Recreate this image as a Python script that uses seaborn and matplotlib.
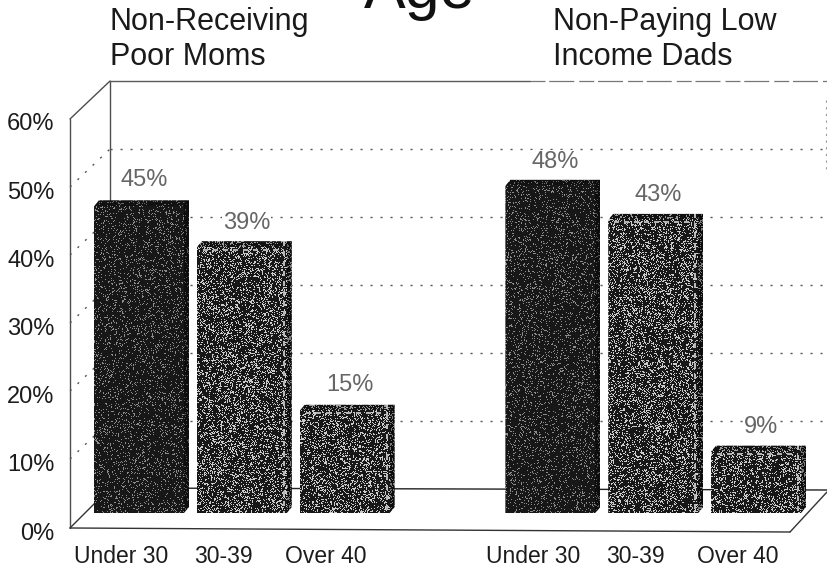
import numpy as np
import pandas as pd
import matplotlib
matplotlib.use("Agg")
import matplotlib.pyplot as plt
from matplotlib.patches import Polygon
from matplotlib.transforms import ScaledTranslation
import seaborn as sns

group_moms = "Non-Receiving\nPoor Moms"
group_dads = "Non-Paying Low\nIncome Dads"
main_title = "Age"
categories = ["Under 30", "30-39", "Over 40"]
moms = [45, 39, 15]
dads = [48, 43, 9]
yticks = [0, 10, 20, 30, 40, 50, 60]

sns.set_theme(style="white")
plt.rcParams['font.family'] = ['Liberation Sans', 'DejaVu Sans']

W, H = 827, 569
fig = plt.figure(figsize=(W / 100, H / 100), dpi=100)
fig.patch.set_facecolor("white")
AX_L, AX_R, AX_B, AX_T = 70, 827, 528, 119
ax = fig.add_axes([AX_L / W, 1 - AX_B / H, (AX_R - AX_L) / W, (AX_B - AX_T) / H])
ax.patch.set_alpha(0)


def px(x, y):
    return x / W, 1 - y / H


def frame(xs, ys, **kw):
    fx = [x / W for x in xs]
    fy = [1 - y / H for y in ys]
    ax.plot(fx, fy, transform=fig.transFigure, clip_on=False, **kw)


slots = ["m0", "m1", "m2", "gap", "d0", "d1", "d2"]
values = moms + [np.nan] + dads
df = pd.DataFrame({"slot": slots, "value": values})
BASE = 2.2
sns.barplot(data=df, x="slot", y="value", hue="slot", order=slots, hue_order=slots,
            palette=["#262626", "#4a4a4a", "#4a4a4a", "#ffffff", "#262626", "#4a4a4a", "#4a4a4a"],
            dodge=False, width=0.875, bottom=BASE, legend=False, ax=ax, zorder=3, errorbar=None)
XLIM = (-0.671, 6.69)
ax.set_xlim(*XLIM)
ax.set_ylim(0, 60)
ax.set_xticks([])
ax.set_xlabel("")
ax.set_ylabel("")
ax.set_yticks(yticks)
ax.set_yticklabels([f"{t}%" for t in yticks], fontsize=17, color="#1c1c1c")
ax.tick_params(axis="y", length=0, pad=11)
for lab in ax.get_yticklabels():
    lab.set_transform(lab.get_transform() + ScaledTranslation(0, -3 / 100, fig.dpi_scale_trans))
sns.despine(ax=ax, left=True, bottom=True, top=True, right=True)

# 3D box frame, in figure pixels
c = "#4d4d4d"
frame([70, 70], [528, 119], color=c, lw=1.0, zorder=1)
frame([70, 110], [119, 81], color=c, lw=1.0, zorder=1)
frame([110, 110], [81, 488], color=c, lw=1.0, zorder=1)
frame([110, 530], [81, 81], color="#5a5a5a", lw=1.0, zorder=1)
frame([530, 827], [81, 81], color="#777777", lw=0.9, ls=(0, (12, 3, 20, 4)), zorder=1)
frame([70, 790], [528, 532], color="#333333", lw=1.0, zorder=1)
frame([790, 827], [532, 492], color="#333333", lw=1.0, zorder=1)
frame([70, 110], [528, 488], color="#333333", lw=1.0, zorder=1)
frame([110, 827], [488, 490], color="#222222", lw=1.0, zorder=1)
frame([826, 826], [100, 170], color="#999999", lw=0.8, ls=(0, (2, 4)), zorder=1)
grid_back = [421, 353, 285, 217, 149]
grid_front = [459, 391, 323, 255, 187]
dot = (0, (1.5, 5.7))
for yb, yf in zip(grid_back, grid_front):
    frame([70, 110], [yf, yb], color="#555555", lw=1.0, ls=(0, (1.5, 6)), zorder=1)
    frame([110, 822], [yb, yb], color="#555555", lw=1.0, ls=dot, zorder=1)

# stipple texture on bars (a visual fill only, derived from pixel indices)


def stipple(h, w, seed):
    j, i = np.meshgrid(np.arange(w) + seed * 131.0, np.arange(h) + seed * 17.0)
    return (np.sin(i * 12.9898 + j * 78.233) * 43758.5453) % 1.0


def coarse(h, w, seed, block):
    n = stipple(h // block + 2, w // block + 2, seed + 50)
    return np.kron(n, np.ones((block, block)))[:h, :w]


x_per_px = (XLIM[1] - XLIM[0]) / (AX_R - AX_L)
y_per_px = 60 / (AX_B - AX_T)
bars = sorted([p for p in ax.patches if np.isfinite(p.get_height()) and p.get_height() > 0],
              key=lambda p: p.get_x())
labels = [f"{v}%" for v in moms + dads]
label_centres_above = [20, 18, 20, 18, 19, 19]
for n, (bar, text) in enumerate(zip(bars, labels)):
    dark = n in (0, 3)
    x0, y0, bw, bh = bar.get_x(), bar.get_y(), bar.get_width(), bar.get_height()
    x1, y1 = x0 + bw, y0 + bh
    dx, dy = 5 * x_per_px, 6 * y_per_px
    outline = [[x0, y1], [x0 + dx, y1 + dy], [x1 + dx, y1 + dy],
               [x1 + dx, y0 + dy], [x1, y0], [x0, y0]]
    wpx = int(round((bw + dx) / x_per_px))
    hpx = int(round((bh + dy) / y_per_px))
    noise = stipple(hpx, wpx, n + 1)
    p = 0.13 if dark else 0.10 + 0.30 * coarse(hpx, wpx, n + 1, 3)
    g = np.where(noise < p, 0.55 if dark else 0.80, 0.09)
    g[:6, :] *= 0.75
    g[:, -5:] *= 0.6
    if not dark:
        band = (np.arange(hpx) // 5) % 2 == 0
        g[:, -9:-7][band, :] = 0.72
        g[8:10, 6:-8][:, (np.arange(wpx - 14) // 5) % 2 == 0] = 0.7
    im = ax.imshow(g, extent=[x0, x1 + dx, y0, y1 + dy], origin="upper", cmap="gray",
                   vmin=0, vmax=1, aspect="auto", zorder=4, interpolation="nearest")
    clip = Polygon(outline, closed=True, transform=ax.transData)
    im.set_clip_path(clip)
    bar.set_visible(False)
    ax.text(x0 + bw / 2 + 5 * x_per_px, y1 + dy + label_centres_above[n] * y_per_px,
            text, ha="center", va="center", fontsize=17, color="#666666", zorder=5,
            bbox=dict(fc="white", ec="none", pad=0.5))
ax.set_xlim(*XLIM)
ax.set_ylim(0, 60)

for x, lab in zip([121, 223, 326, 533, 635, 738], categories * 2):
    fig.text(*px(x, 563), lab, ha="center", va="baseline", fontsize=16.5, color="#1c1c1c")
fig.text(*px(110, 65), group_moms, ha="left", va="baseline", fontsize=22, color="#1a1a1a", linespacing=1.23)
fig.text(*px(553, 65), group_dads, ha="left", va="baseline", fontsize=22, color="#1a1a1a", linespacing=1.23)
fig.text(*px(420, 8), main_title, ha="center", va="baseline", fontsize=45, color="#111111")

fig.savefig("out.png", dpi=100)
